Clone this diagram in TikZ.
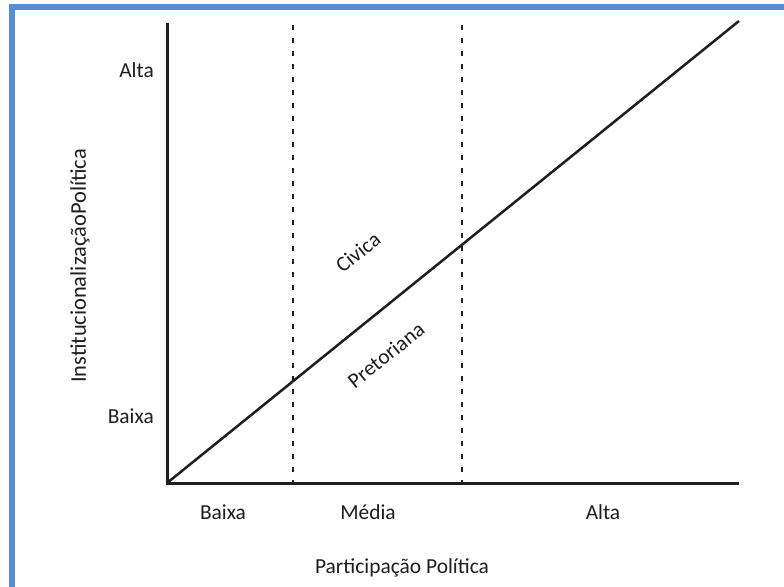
\documentclass[tikz,border=0pt]{standalone}
\usepackage{fontspec}
\setmainfont{Carlito}
\definecolor{frameblue}{RGB}{85,142,213}
\definecolor{ink}{RGB}{30,30,30}
\begin{document}
\begin{tikzpicture}[x=1bp,y=-1bp,
  axis/.style={draw=ink,line width=3bp},
  diag/.style={draw=ink,line width=2.5bp},
  divider/.style={draw=ink,line width=2.5bp,dash pattern=on 5bp off 8bp},
  lbl/.style={font=\fontsize{21.5}{24}\selectfont,text=ink,inner sep=0pt}]
\useasboundingbox (0,0) rectangle (784,587);
\clip (0,0) rectangle (784,587);
\fill[white] (0,0) rectangle (784,587);
\draw[frameblue,line width=6bp] (12,7) rectangle (830,640);
% axes and lines
\coordinate (O) at (167,483);
\coordinate (ytop) at (167,23);
\coordinate (xend) at (739,483);
\coordinate (dend) at (739,21);
\coordinate (d1t) at (293,25);
\coordinate (d1b) at (293,483);
\coordinate (d2t) at (462,25);
\coordinate (d2b) at (462,483);
\draw[divider] (d1t) -- (d1b);
\draw[divider] (d2t) -- (d2b);
\draw[axis] (ytop) -- (O) -- (xend);
\draw[diag] (O) -- (dend);
% y labels
\node[lbl,anchor=east] (yalta) at (154,70) {Alta};
\node[lbl,anchor=east] (ybaixa) at (154,416) {Baixa};
\node[lbl,font=\fontsize{22.5}{25}\selectfont,rotate=90] (ytitle) at (80,266) {InstitucionalizaçãoPolítica};
% x labels
\node[lbl] (xbaixa) at (223,512) {Baixa};
\node[lbl] (xmedia) at (368,512) {Média};
\node[lbl] (xalta) at (603,512) {Alta};
\node[lbl] (xtitle) at (402,568) {Participação Política};
% region labels
\node[lbl,rotate=38.6] (civica) at (358,252) {Civica};
\node[lbl,rotate=38.6] (pretoriana) at (386,355) {Pretoriana};
\end{tikzpicture}
\end{document}
